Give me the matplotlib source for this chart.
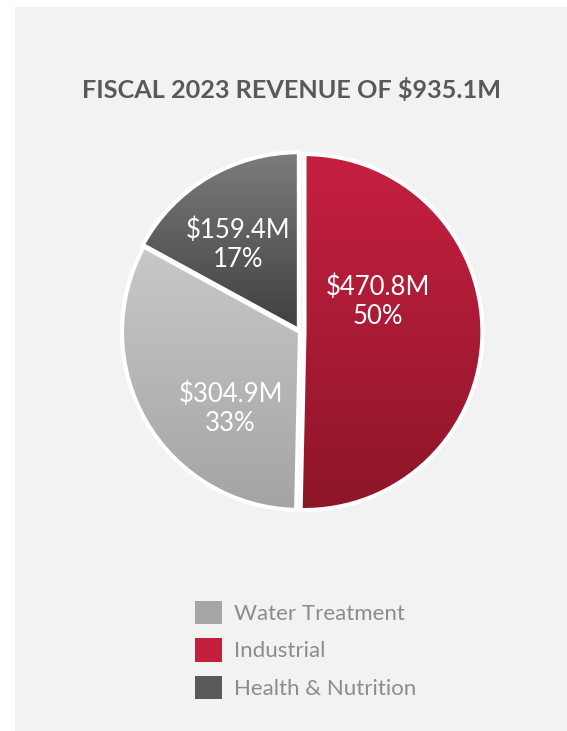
import numpy as np
import matplotlib
matplotlib.use("Agg")
import matplotlib.pyplot as plt
from matplotlib.patches import Patch, Rectangle, PathPatch
from matplotlib.colors import LinearSegmentedColormap

# data
segments = ["Industrial", "Water Treatment", "Health & Nutrition"]
revenue = [470.8, 304.9, 159.4]          # $M
shares = [50, 33, 17]                    # % as printed
legend_order = ["Water Treatment", "Industrial", "Health & Nutrition"]

# styles
base_colors = {"Industrial": "#c41f3e", "Water Treatment": "#a6a6a6", "Health & Nutrition": "#595959"}
grad_colors = {
    "Industrial": ("#c62040", "#8d1629"),
    "Water Treatment": ("#c8c8c8", "#a4a4a4"),
    "Health & Nutrition": ("#7c7c7c", "#3f3f3f"),
}
label_pos = {"Industrial": (0.44, 0.17), "Water Treatment": (-0.39, -0.43), "Health & Nutrition": (-0.35, 0.49)}
explode = [0.025, 0.0, 0.012]

plt.rcParams["font.family"] = ["Lato", "DejaVu Sans"]

W, H = 567, 731
fig = plt.figure(figsize=(W / 100, H / 100), dpi=100)
fig.patch.set_facecolor("white")
fig.patches.append(Rectangle((15 / W, 0), 1, 1 - 7 / H, transform=fig.transFigure,
                             facecolor="#f2f2f2", edgecolor="none", zorder=-1))

fig.text(292 / W, 1 - 90 / H, "FISCAL 2023 REVENUE OF $935.1M", ha="center", va="center",
         fontsize=18.2, fontweight="bold", color="#595959")

# pie axes: centre (300, 332) px, radius 178 px
R = 178
half = 1.15 * R
ax = fig.add_axes([(300 - half) / W, (H - 332 - half) / H, 2 * half / W, 2 * half / H])
ax.patch.set_visible(False)

wedges, _ = ax.pie(revenue, startangle=90, counterclock=False, explode=explode,
                   colors=[base_colors[s] for s in segments],
                   wedgeprops=dict(linewidth=0))

# vertical gradient fill per slice, then white outline on top
for wedge, seg in zip(wedges, segments):
    path = wedge.get_path()
    verts = path.vertices
    y0, y1 = verts[:, 1].min(), verts[:, 1].max()
    x0, x1 = verts[:, 0].min(), verts[:, 0].max()
    cmap = LinearSegmentedColormap.from_list(seg, [grad_colors[seg][1], grad_colors[seg][0]])
    grad = np.linspace(0, 1, 256).reshape(-1, 1)
    im = ax.imshow(grad, cmap=cmap, origin="lower", extent=(x0, x1, y0, y1),
                   aspect="auto", zorder=2, interpolation="bilinear")
    im.set_clip_path(wedge)
    ax.add_patch(PathPatch(path, facecolor="none", edgecolor="white", linewidth=3,
                           zorder=3, joinstyle="miter"))

for seg, val, pct in zip(segments, revenue, shares):
    x, y = label_pos[seg]
    ax.text(x, y, f"${val}M\n{pct}%", ha="center", va="center", color="white",
            fontsize=18.5, linespacing=1.2, zorder=5)

ax.set_xlim(-1.15, 1.15)
ax.set_ylim(-1.15, 1.15)
ax.set_aspect("equal")
ax.axis("off")

handles = [Patch(facecolor=base_colors[s], edgecolor="none", label=s) for s in legend_order]
fig.legend(handles=handles, loc="center left", bbox_to_anchor=(195 / W, 1 - 650 / H),
           frameon=False, fontsize=16, labelcolor="#8c8c8c", handlelength=1.22,
           handleheight=1.22, handletextpad=0.54, labelspacing=0.65, borderpad=0,
           borderaxespad=0)

fig.savefig("out.png", dpi=100, facecolor=fig.get_facecolor())
